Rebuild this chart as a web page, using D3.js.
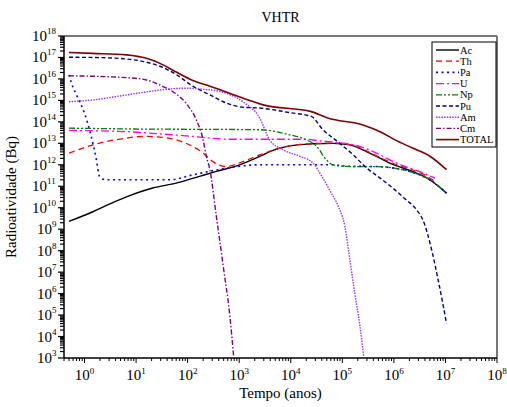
<!DOCTYPE html>
<html>
<head>
<meta charset="utf-8">
<script src="https://cdn.jsdelivr.net/npm/d3@7"></script>
<style>
  body { margin: 0; background: #fff; }
  text { font-family: "Liberation Serif", "DejaVu Serif", serif; fill: #000; }
</style>
</head>
<body>
<div id="graph"></div>
<script>
/* data: [tempo (anos), radioatividade (Bq)] */
var ac = [[0.5,2.3e9],[1.45,6.5e9],[3.1,1.5e10],[6.5,3.2e10],[21,8.3e10],[60,1.4e11],[170,2.9e11],
  [360,4.9e11],[1020,1e12],[2500,2.45e12],[4000,4.2e12],[9500,7.6e12],[27000,9.5e12],[66000,1e13],
  [1.4e5,8.5e12],[2.5e5,5e12],[4.6e5,2.45e12],[8.3e5,1.2e12],[1.5e6,7.1e11],[2.75e6,4.1e11],[5e6,2e11],[1.05e7,4.8e10]];
var th = [[0.5,3.5e12],[1.45,8.5e12],[6.5,1.75e13],[13.5,2.1e13],[29,1.95e13],[60,1.45e13],[126,7.1e12],
  [200,3.5e12],[310,1.4e12],[560,8.3e11],[1175,1.4e12],[2500,2.9e12],[4000,4.3e12],[9500,7.7e12],[27000,9.7e12],
  [66000,1.02e13],[1.4e5,8.8e12],[2.5e5,5.3e12],[4.6e5,2.6e12],[9.8e5,1.15e12],[2e6,6.5e11],[4e6,3.3e11],[6.8e6,1.45e11]];
var pa = [[0.5,1.55e16],[0.56,6.3e15],[0.75,1.26e15],[1,2.5e14],[1.35,2.1e13],[1.7,1.7e12],[1.95,2.9e11],
  [2.6,2e11],[45,2e11],[126,3.4e11],[560,6.9e11],[2500,1e12],[58000,1e12],[1.4e5,8.5e11],[4.6e5,8.3e11],
  [1e6,7e11],[2e6,4.9e11],[5e6,2e11],[1.05e7,4.8e10]];
var u = [[0.5,4e13],[6.5,3.5e13],[29,2.75e13],[126,2.1e13],[270,1.75e13],[575,1.55e13],[20000,1.55e13],
  [32000,1.35e13],[78000,1.1e13],[2.2e5,7.1e12],[4.6e5,3.5e12],[9.8e5,1.4e12],[2e6,7.1e11],[3.7e6,4.1e11],[6.3e6,2.4e11]];
var np = [[0.5,5.1e13],[6.5,4.7e13],[2500,4.3e13],[9500,2.5e13],[20000,1.45e13],[32000,7.1e12],[49000,1.7e12],
  [66000,1e12],[1.4e5,8.3e11],[4.6e5,8.3e11],[9.8e5,7.1e11],[2e6,4.9e11],[5e6,2e11],[1.05e7,4.8e10]];
var pu = [[0.5,1.02e17],[1.45,1.0e17],[6.5,8.5e16],[16,6e16],[29,3.9e16],[60,1.6e16],[126,4.6e15],[270,1.8e15],[575,7.4e14],
  [1175,4.8e14],[2500,4.4e14],[9500,2.7e14],[25000,1.8e14],[42000,4.3e13],[81000,1.2e13],[1.6e5,3e12],
  [2.75e5,8.3e11],[5.4e5,2.4e11],[9.5e5,8.3e10],[1.74e6,2.3e10],[2.75e6,8.1e9],[3.7e6,2.5e9],[5.4e6,1.1e8],
  [7.2e6,4.5e6],[9.1e6,2.6e5],[1.05e7,4e4]];
var am = [[0.5,8.7e14],[1.45,1.05e15],[6.5,1.8e15],[18,2.6e15],[39,3.3e15],[93,3.7e15],[200,3.3e15],
  [420,2.6e15],[1175,8.7e14],[2500,1.5e14],[3900,1.45e13],[7100,5e12],[15000,2.5e12],[27000,1.2e12],
  [40000,2.9e11],[58000,6e10],[83000,1.2e10],[1.12e5,1.35e9],[1.4e5,3.8e7],[1.74e5,1.07e6],[2.2e5,3e4],[2.6e5,1.2e3]];
var cm = [[0.5,1.4e16],[6.5,1.15e16],[16,8.9e15],[29,5.2e15],[51,2.6e15],[93,7.4e14],[148,1.2e14],
  [200,1.45e13],[230,2.5e12],[270,5.9e11],[360,4e9],[490,1.9e7],[660,8.7e4],[780,1.2e3]];
var total = [[0.5,1.7e17],[1.45,1.55e17],[6.5,1.32e17],[16,9.1e16],[29,5.3e16],[60,2.1e16],[126,8.5e15],[270,4.6e15],[1600,1e15],
  [2900,6.2e14],[25000,3e14],[52000,1.5e14],[2.5e5,7.2e13],[5.4e5,3.5e13],[1.05e6,1.45e13],[2.3e6,6e12],
  [5e6,2.5e12],[1.05e7,5.9e11]];

var seriesNames = ["Ac", "Th", "Pa", "U", "Np", "Pu", "Am", "Cm", "TOTAL"];
var seriesData = [ac, th, pa, u, np, pu, am, cm, total];
var xTickExp = [0, 1, 2, 3, 4, 5, 6, 7, 8];
var yTickExp = [3, 4, 5, 6, 7, 8, 9, 10, 11, 12, 13, 14, 15, 16, 17, 18];

// styles per series
var styles = {
  "Ac":    { color: "#000000", dash: null,            w: 1.4 },
  "Th":    { color: "#ff0000", dash: "6,4",           w: 1.3 },
  "Pa":    { color: "#0000ff", dash: "2,3.5",         w: 1.6 },
  "U":     { color: "#ff00ff", dash: "8,3,2,3",       w: 1.3 },
  "Np":    { color: "#008000", dash: "6,2,2,2,2,2",   w: 1.3 },
  "Pu":    { color: "#000080", dash: "4,2.5",         w: 1.4 },
  "Am":    { color: "#9933ff", dash: "1.5,1.2",       w: 1.4 },
  "Cm":    { color: "#800080", dash: "5,2,1.5,2",     w: 1.4 },
  "TOTAL": { color: "#800000", dash: null,            w: 1.6 }
};

var width = 507, height = 407;
var margin = {left: 64, right: 10, top: 36, bottom: 49};

var svg = d3.select("#graph").append("svg")
  .attr("width", width)
  .attr("height", height);

var x = d3.scaleLog().domain([0.4, 1e8]).range([margin.left, width - margin.right]);
var y = d3.scaleLog().domain([1e3, 1e18]).range([height - margin.bottom, margin.top]);

var x0 = x.range()[0], x1 = x.range()[1], y0 = y.range()[0], y1 = y.range()[1];

svg.append("defs").append("clipPath").attr("id", "clip")
  .append("rect").attr("x", x0).attr("y", y1).attr("width", x1 - x0).attr("height", y0 - y1);

// frame: top and right in grey
svg.append("line").attr("x1", x0).attr("x2", x1).attr("y1", y1).attr("y2", y1)
  .style("stroke", "#777").style("stroke-width", 2);
svg.append("line").attr("x1", x1).attr("x2", x1).attr("y1", y1).attr("y2", y0)
  .style("stroke", "#777").style("stroke-width", 2);

// curves
var line = d3.line()
  .curve(d3.curveMonotoneX)
  .x(function(d) { return x(d[0]); })
  .y(function(d) { return y(d[1]); });

var g = svg.append("g").attr("clip-path", "url(#clip)");
seriesNames.forEach(function(name, i) {
  var s = styles[name];
  g.append("path")
    .datum(seriesData[i])
    .attr("d", line)
    .style("fill", "none")
    .style("stroke", s.color)
    .style("stroke-width", s.w)
    .style("stroke-dasharray", s.dash);
});

// x axis ticks (outward, down)
var ax = svg.append("g");
ax.append("line").attr("x1", x0).attr("x2", x1).attr("y1", y0).attr("y2", y0)
  .style("stroke", "#000").style("stroke-width", 1.5);
var xMinor = [];
for (var e = -1; e < 8; e++) for (var m = 1; m < 10; m++) {
  var v = m * Math.pow(10, e);
  if (v >= 0.4 && v <= 1e8) xMinor.push({v: v, major: m === 1});
}
xMinor.push({v: 1e8, major: true});
ax.selectAll(".xt").data(xMinor).enter().append("line")
  .attr("x1", function(d) { return x(d.v); }).attr("x2", function(d) { return x(d.v); })
  .attr("y1", y0).attr("y2", function(d) { return y0 + (d.major ? 5 : 3); })
  .style("stroke", "#000").style("stroke-width", 1);
xTickExp.forEach(function(k) {
  var t = ax.append("text")
    .attr("x", x(Math.pow(10, k)))
    .attr("y", y0 + 22)
    .attr("text-anchor", "middle")
    .style("font-size", "15px");
  t.append("tspan").text("10");
  t.append("tspan").attr("dy", -6).style("font-size", "9px").text(k);
});

// y axis ticks (outward, left)
var ay = svg.append("g");
ay.append("line").attr("x1", x0).attr("x2", x0).attr("y1", y0).attr("y2", y1)
  .style("stroke", "#000").style("stroke-width", 1.5);
var yMinor = [];
for (var e2 = 3; e2 < 18; e2++) for (var m2 = 1; m2 < 10; m2++) {
  yMinor.push({v: m2 * Math.pow(10, e2), major: m2 === 1});
}
yMinor.push({v: 1e18, major: true});
ay.selectAll(".yt").data(yMinor).enter().append("line")
  .attr("x1", function(d) { return x0 - (d.major ? 6 : 4); }).attr("x2", x0)
  .attr("y1", function(d) { return y(d.v); }).attr("y2", function(d) { return y(d.v); })
  .style("stroke", "#000").style("stroke-width", 1.2);
yTickExp.forEach(function(k) {
  var t = ay.append("text")
    .attr("x", x0 - 7 - (k >= 10 ? 10 : 5))
    .attr("y", y(Math.pow(10, k)) + 5)
    .attr("text-anchor", "end")
    .style("font-size", "15px");
  t.text("10");
  ay.append("text")
    .attr("x", x0 - 7 - (k >= 10 ? 10 : 5))
    .attr("y", y(Math.pow(10, k)) - 2)
    .attr("text-anchor", "start")
    .style("font-size", "9px")
    .text(k);
});

// titles
svg.append("text").attr("x", (x0 + x1) / 2).attr("y", 22)
  .attr("text-anchor", "middle").style("font-size", "14px").text("VHTR");
svg.append("text").attr("x", (x0 + x1) / 2).attr("y", 398)
  .attr("text-anchor", "middle").style("font-size", "15px").text("Tempo (anos)");
svg.append("text")
  .attr("transform", "translate(16," + ((y0 + y1) / 2) + ") rotate(-90)")
  .attr("text-anchor", "middle").style("font-size", "15px").text("Radioatividade (Bq)");

// legend
var lg = svg.append("g");
lg.append("rect").attr("x", 432).attr("y", 42).attr("width", 64).attr("height", 105)
  .style("fill", "#fff").style("stroke", "#000").style("stroke-width", 1);
seriesNames.forEach(function(name, i) {
  var s = styles[name];
  var yy = 50 + i * 11.2;
  lg.append("line").attr("x1", 436).attr("x2", 459).attr("y1", yy).attr("y2", yy)
    .style("stroke", s.color).style("stroke-width", s.w).style("stroke-dasharray", s.dash);
  lg.append("text").attr("x", 460).attr("y", yy + 3.5)
    .style("font-size", "10.5px").text(name);
});
</script>
</body>
</html>
